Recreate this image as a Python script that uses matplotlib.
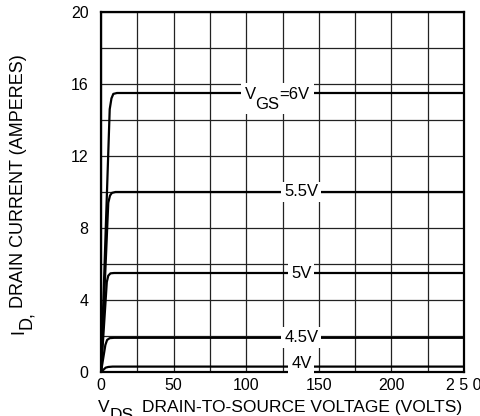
import numpy as np
import matplotlib
matplotlib.use("Agg")
from matplotlib import pyplot as plt
from matplotlib.patches import Rectangle
from matplotlib.transforms import IdentityTransform

plt.rcParams['font.family'] = ['Liberation Sans', 'DejaVu Sans']

# output curves
vds_6 = [0, 6.0, 7.2, 8.5, 11, 250]
id_6 = [0, 14.6, 15.2, 15.45, 15.5, 15.5]
vds_55 = [0, 5.0, 6.2, 7.5, 10, 250]
id_55 = [0, 9.4, 9.8, 9.95, 10.0, 10.0]
vds_5 = [0, 4.0, 5.0, 6.5, 9, 250]
id_5 = [0, 5.0, 5.35, 5.48, 5.5, 5.5]
vds_45 = [0, 3.0, 4.2, 6.0, 9, 250]
id_45 = [0, 1.5, 1.78, 1.88, 1.9, 1.9]
vds_4 = [0, 2.0, 3.2, 5.0, 8, 250]
id_4 = [0, 0.15, 0.24, 0.28, 0.3, 0.3]

vgs_labels = ["5.5V", "5V", "4.5V", "4V"]
label_x = [138, 138, 138, 138]
label_y = [10.0, 5.5, 1.9, 0.45]

xticks = [0, 50, 100, 150, 200, 250]
xtick_labels = ["0", "50", "100", "150", "200", "2 5 0"]
yticks = [0, 4, 8, 12, 16, 20]

fig = plt.figure()
fig.set_dpi(100)
fig.set_size_inches(4.8, 4.16)
ax = fig.add_axes([101 / 480, 44 / 416, 363 / 480, 360 / 416])
ax.set_xlim(0, 250)
ax.set_ylim(0, 20)

ax.set_xticks(xticks)
ax.set_xticklabels(xtick_labels, fontsize=11.5)
ax.set_yticks(yticks)
ax.tick_params(labelsize=11.5, length=0)
ax.tick_params(axis='x', pad=4)
ax.tick_params(axis='y', pad=9)
ax.set_xticks(np.arange(0, 251, 25), minor=True)
ax.set_yticks(np.arange(0, 21, 2), minor=True)
ax.tick_params(which='minor', length=0)
ax.grid(which='both', color='#222222', lw=0.9)
ax.set_axisbelow(True)
for s in ax.spines.values():
    s.set_linewidth(1.6)

curves = [(vds_6, id_6), (vds_55, id_55), (vds_5, id_5), (vds_45, id_45), (vds_4, id_4)]
for vx, vy in curves:
    ax.plot(vx, vy, color='black', lw=1.6, zorder=3)

for lab, lx, ly in zip(vgs_labels, label_x, label_y):
    ax.text(lx, ly, lab, ha='center', va='center', fontsize=12, zorder=4,
            bbox=dict(facecolor='white', edgecolor='none', pad=2))


# text with big, dropped subscripts like the datasheet: parts = (text, shift px, gap px)
def sub_label(xd, yd, parts, fs, trans, rot=0, box=False):
    r = fig.canvas.get_renderer()
    ws = []
    for s, dy, gap in parts:
        t = fig.text(0, 0, s, fontsize=fs)
        ws.append(t.get_window_extent(r).width + gap)
        t.remove()
    x0, y0 = trans.transform((xd, yd))
    total = sum(ws)
    pos = -total / 2
    if box:
        cap = fs * fig.dpi / 72 * 0.75
        low = min(dy for _, dy, _ in parts)
        fig.add_artist(Rectangle((x0 - total / 2 - 4, y0 + low - 5), total + 8, cap - low + 9,
                                 facecolor='white', edgecolor='none',
                                 transform=IdentityTransform(), zorder=4))
    for (s, dy, gap), w in zip(parts, ws):
        if rot == 0:
            px, py = x0 + pos, y0 + dy
        else:
            px, py = x0 - dy, y0 + pos
        fig.text(px, py, s, fontsize=fs, rotation=rot, rotation_mode='anchor',
                 ha='left', va='baseline', transform=IdentityTransform(), zorder=5)
        pos += w


sub_label(121.5, 15.15, [("V", 0, -1), ("GS", -10, 0), ("=6V", 0, 0)], 12,
          ax.transData, box=True)
sub_label(280, 4, [("V", 0, 0), ("DS,", -8, 4), ("DRAIN-TO-SOURCE VOLTAGE (VOLTS)", 0, 0)],
          12.5, IdentityTransform())
sub_label(23, 222, [("I", 0, 0), ("D,", -8, 3), ("DRAIN CURRENT (AMPERES)", 0, 0)],
          13, IdentityTransform(), rot=90)

fig.savefig("out.png", dpi=100)
